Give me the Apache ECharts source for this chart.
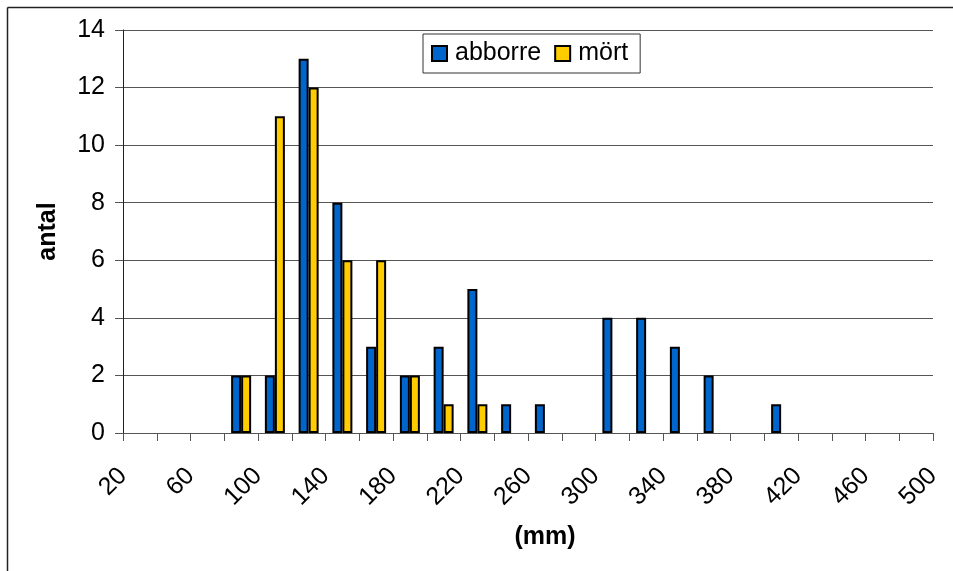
<!DOCTYPE html>
<html>
<head>
<meta charset="utf-8">
<script src="https://cdn.jsdelivr.net/npm/echarts@6/dist/echarts.min.js"></script>
<style>
html,body{margin:0;padding:0;background:#fff;}
#chart{width:953px;height:571px;}
</style>
</head>
<body>
<div id="chart"></div>
<script>
// bin centres (mm) – bins are 20 mm wide, edges at 20, 40, ... 500
const binCenters = [30,50,70,90,110,130,150,170,190,210,230,250,270,290,310,330,350,370,390,410,430,450,470,490];
const abborre    = [0, 0, 0, 2, 2, 13, 8, 3, 2, 3, 5, 1, 1, 0, 4, 4, 3, 2, 0, 1, 0, 0, 0, 0];
const mort       = [0, 0, 0, 2, 11, 12, 6, 6, 2, 1, 1, 0, 0, 0, 0, 0, 0, 0, 0, 0, 0, 0, 0, 0];
const xTickLabels = [20,60,100,140,180,220,260,300,340,380,420,460,500];
const yTickLabels = [0,2,4,6,8,10,12,14];
const seriesNames = ['abborre','mört'];

const FONT = 'Liberation Sans, Arial, sans-serif';
const pairs = vals => binCenters.map((c,i)=>[c, vals[i]]).filter(d => d[1] > 0);

const chart = echarts.init(document.getElementById('chart'), null, {renderer:'canvas'});
chart.setOption({
  backgroundColor:'#fff',
  animation:false,
  textStyle:{fontFamily:FONT},
  graphic:[
    {type:'line', silent:true, shape:{x1:7.5,y1:7.5,x2:960,y2:7.5}, style:{stroke:'#222', lineWidth:1.5}},
    {type:'line', silent:true, shape:{x1:7.5,y1:7.5,x2:7.5,y2:580}, style:{stroke:'#222', lineWidth:1.5}}
  ],
  grid:{left:123, right:20, top:30, bottom:138},
  legend:{
    left:423, top:34,
    padding:[7,12,7,8],
    icon:'rect',
    itemWidth:15, itemHeight:15, itemGap:13,
    borderColor:'#333', borderWidth:1,
    backgroundColor:'#fff',
    textStyle:{fontSize:25, color:'#000', fontFamily:FONT, padding:[0,0,0,3]},
    data:seriesNames
  },
  xAxis:{
    type:'value', min:20, max:500, interval:20,
    name:'(mm)', nameLocation:'middle', nameGap:92,
    nameTextStyle:{fontSize:25, fontWeight:'bold', color:'#000', fontFamily:FONT, padding:[0,0,0,34]},
    axisLine:{show:true, lineStyle:{color:'#555', width:1}},
    axisTick:{show:true, length:8, lineStyle:{color:'#555'}},
    splitLine:{show:false},
    axisLabel:{
      rotate:45, margin:39, fontSize:25, color:'#000', fontFamily:FONT,
      formatter: v => xTickLabels.indexOf(v) >= 0 ? String(v) : ''
    }
  },
  yAxis:{
    type:'value', min:0, max:14, interval:2,
    name:'antal', nameLocation:'middle', nameGap:62,
    nameTextStyle:{fontSize:25, fontWeight:'bold', color:'#000', fontFamily:FONT},
    axisLine:{show:true, lineStyle:{color:'#222', width:1}},
    axisTick:{show:true, length:8, lineStyle:{color:'#555'}},
    splitLine:{show:true, lineStyle:{color:'#555', width:1}},
    axisLabel:{
      margin:18, fontSize:25, color:'#000', fontFamily:FONT,
      formatter: v => yTickLabels.indexOf(v) >= 0 ? String(v) : ''
    }
  },
  series:[
    {
      name:seriesNames[0], type:'bar', data:pairs(abborre),
      barWidth:10, barGap:'0%',
      itemStyle:{color:'#0066CC', borderColor:'#000', borderWidth:2}
    },
    {
      name:seriesNames[1], type:'bar', data:pairs(mort),
      barWidth:10, barGap:'0%',
      itemStyle:{color:'#FFCC00', borderColor:'#000', borderWidth:2}
    }
  ]
});
</script>
</body>
</html>
